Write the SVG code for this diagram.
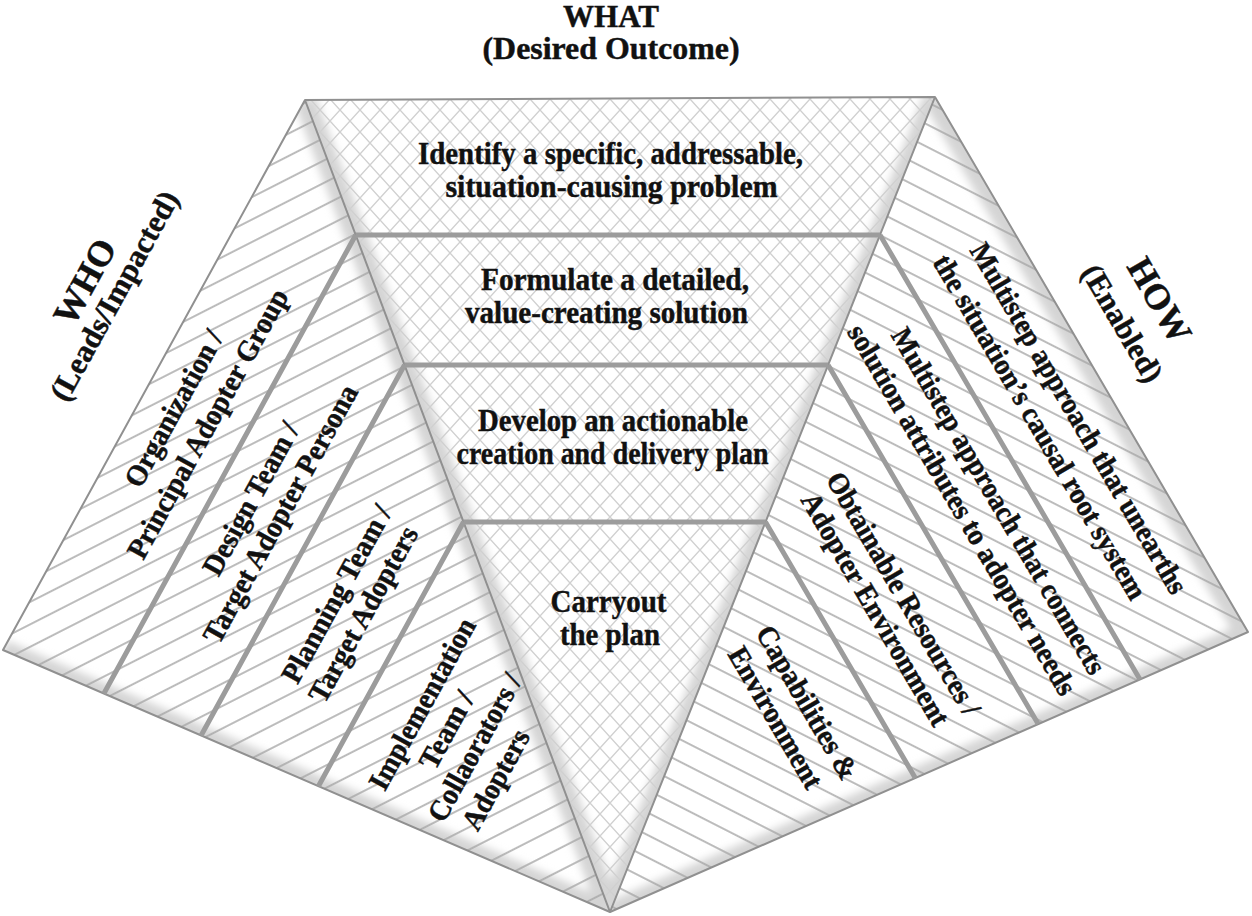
<svg xmlns="http://www.w3.org/2000/svg" width="1252" height="916" viewBox="0 0 1252 916">
<defs>
<style>
.t{font-family:"Liberation Serif","Times New Roman",serif;font-weight:bold;fill:#111;stroke:#111;stroke-width:0.45px;}
.ttl{font-size:31px;text-anchor:middle;}
.ctr{font-size:32px;text-anchor:middle;}
.lab{font-size:29.5px;text-anchor:middle;}
.big{font-size:36px;text-anchor:middle;}
.side{font-size:31px;text-anchor:middle;}
.edge{stroke:#909090;stroke-width:2;fill:none;stroke-linejoin:round;}
.div{stroke:#9c9c9c;stroke-width:5;fill:none;}
.base{fill:#fff;stroke:none;}
.hl{fill:url(#hatchL);}
.hr{fill:url(#hatchR);}
.hc{fill:url(#lattice);}
.sh{fill:none;stroke:#d4d4d4;}
</style>
<pattern id="hatchL" patternUnits="userSpaceOnUse" width="40" height="20" patternTransform="rotate(-27)">
<line x1="-1" y1="10" x2="41" y2="10" stroke="#a6a6a6" stroke-width="1.3"/>
</pattern>
<pattern id="hatchR" patternUnits="userSpaceOnUse" width="40" height="20" patternTransform="rotate(27)">
<line x1="-1" y1="10" x2="41" y2="10" stroke="#a6a6a6" stroke-width="1.3"/>
</pattern>
<pattern id="lattice" patternUnits="userSpaceOnUse" width="20" height="22">
<path d="M-10,-11 L30,33 M10,-11 L50,33 M-30,-11 L10,33 M10,-11 L-30,33 M30,-11 L-10,33 M50,-11 L10,33" stroke="#d0d0d0" stroke-width="1.4" fill="none"/>
</pattern>
<clipPath id="clipL"><polygon points="305,100 3,650 610,912"/></clipPath>
<clipPath id="clipR"><polygon points="935,97 1248,632 610,912"/></clipPath>
<clipPath id="clipC"><polygon points="305,100 935,97 610,912"/></clipPath>
<filter id="blur" x="-20%" y="-20%" width="140%" height="140%"><feGaussianBlur stdDeviation="4"/></filter>
</defs>

<rect x="0" y="0" width="1252" height="916" fill="#fff"/>

<!-- base fills -->
<g id="base">
<polygon class="base" points="305,100 3,650 610,912"/>
<polygon class="base" points="935,97 1248,632 610,912"/>
<polygon class="base" points="305,100 935,97 610,912"/>
</g>

<!-- soft bevel shading -->
<g id="shading">
<g clip-path="url(#clipL)"><g filter="url(#blur)">
<path class="sh" d="M305,100 L610,912" stroke-width="22"/>
<path class="sh" d="M3,650 L610,912" stroke-width="20"/>
</g></g>
<g clip-path="url(#clipR)"><g filter="url(#blur)">
<path class="sh" d="M935,97 L1248,632" stroke-width="26"/>
<path class="sh" d="M610,912 L1248,632" stroke-width="20"/>
</g></g>
<g clip-path="url(#clipC)"><g filter="url(#blur)">
<path class="sh" d="M305,100 L610,912" stroke-width="22"/>
<path class="sh" d="M935,97 L610,912" stroke-width="22"/>
</g></g>
</g>

<!-- title -->
<g id="what-title">
<text class="t ttl" x="611" y="27" textLength="96" lengthAdjust="spacingAndGlyphs">WHAT</text>
<text class="t ttl" x="611" y="59" textLength="257" lengthAdjust="spacingAndGlyphs">(Desired Outcome)</text>
</g>

<!-- centre (WHAT) -->
<g id="what-1">
<polygon class="hc" points="305,100 935,97 880,235 355.7,235"/>
<text class="t ctr" x="610.5" y="164" textLength="385" lengthAdjust="spacingAndGlyphs">Identify a specific, addressable,</text>
<text class="t ctr" x="611.5" y="197" textLength="332" lengthAdjust="spacingAndGlyphs">situation-causing problem</text>
</g>
<g id="what-2">
<polygon class="hc" points="355.7,235 880,235 828.1,365 404.5,365"/>
<text class="t ctr" x="615" y="290" textLength="268" lengthAdjust="spacingAndGlyphs">Formulate a detailed,</text>
<text class="t ctr" x="606.5" y="323" textLength="283" lengthAdjust="spacingAndGlyphs">value-creating solution</text>
</g>
<g id="what-3">
<polygon class="hc" points="404.5,365 828.1,365 765.5,522 463.5,522"/>
<text class="t ctr" x="613" y="431" textLength="270" lengthAdjust="spacingAndGlyphs">Develop an actionable</text>
<text class="t ctr" x="612.5" y="464" textLength="312" lengthAdjust="spacingAndGlyphs">creation and delivery plan</text>
</g>
<g id="what-4">
<polygon class="hc" points="463.5,522 765.5,522 610,912"/>
<text class="t ctr" x="608.5" y="612" textLength="116" lengthAdjust="spacingAndGlyphs">Carryout</text>
<text class="t ctr" x="610" y="645" textLength="100" lengthAdjust="spacingAndGlyphs">the plan</text>
</g>

<!-- left (WHO) -->
<g id="who-title">
<text class="t big" transform="translate(95.2,287.5) rotate(-61.17)">WHO</text>
<text class="t side" transform="translate(123.3,300.7) rotate(-61.17)">(Leads/Impacted)</text>
</g>
<g id="who-1">
<polygon class="hl" points="305,100 355.7,235 103.9,693.5 3,650"/>
<text class="t lab" transform="translate(182.4,413.2) rotate(-61.17)" textLength="174" lengthAdjust="spacingAndGlyphs">Organization /</text>
<text class="t lab" transform="translate(216.2,428.4) rotate(-61.17)" textLength="303" lengthAdjust="spacingAndGlyphs">Principal Adopter Group</text>
</g>
<g id="who-2">
<polygon class="hl" points="355.7,235 404.5,365 201.1,735.5 103.9,693.5"/>
<text class="t lab" transform="translate(259.4,503.4) rotate(-61.17)" textLength="170" lengthAdjust="spacingAndGlyphs">Design Team /</text>
<text class="t lab" transform="translate(288.8,518.5) rotate(-61.17)" textLength="290" lengthAdjust="spacingAndGlyphs">Target Adopter Persona</text>
</g>
<g id="who-3">
<polygon class="hl" points="404.5,365 463.5,522 318.4,786.2 201.1,735.5"/>
<text class="t lab" transform="translate(345.2,598.6) rotate(-61.17)" textLength="198" lengthAdjust="spacingAndGlyphs">Planning Team /</text>
<text class="t lab" transform="translate(371.7,618.9) rotate(-61.17)" textLength="196" lengthAdjust="spacingAndGlyphs">Target Adopters</text>
</g>
<g id="who-4">
<polygon class="hl" points="463.5,522 610,912 318.4,786.2"/>
<text class="t lab" transform="translate(430.8,708.5) rotate(-61.17)" textLength="191" lengthAdjust="spacingAndGlyphs">Implementation</text>
<text class="t lab" transform="translate(455.2,734.6) rotate(-61.17)" textLength="84" lengthAdjust="spacingAndGlyphs">Team /</text>
<text class="t lab" transform="translate(483.2,752.2) rotate(-61.17)" textLength="164" lengthAdjust="spacingAndGlyphs">Collaorators /</text>
<text class="t lab" transform="translate(504.3,784.4) rotate(-61.17)" textLength="110" lengthAdjust="spacingAndGlyphs">Adopters</text>
</g>

<!-- right (HOW) -->
<g id="how-title">
<text class="t big" transform="translate(1149.2,306.3) rotate(59.66)">HOW</text>
<text class="t side" transform="translate(1113.5,328.5) rotate(59.66)">(Enabled)</text>
</g>
<g id="how-1">
<polygon class="hr" points="935,97 1248,632 1140,679.4 880,235"/>
<text class="t lab" transform="translate(1070.4,423.2) rotate(59.66)" textLength="401" lengthAdjust="spacingAndGlyphs">Multistep approach that unearths</text>
<text class="t lab" transform="translate(1031.5,432) rotate(59.66)" textLength="394" lengthAdjust="spacingAndGlyphs">the situation’s causal root system</text>
</g>
<g id="how-2">
<polygon class="hr" points="880,235 1140,679.4 1038.2,724.1 828.1,365"/>
<text class="t lab" transform="translate(990.3,506) rotate(59.66)" textLength="396" lengthAdjust="spacingAndGlyphs">Multistep approach that connects</text>
<text class="t lab" transform="translate(953.7,514.7) rotate(59.66)" textLength="424" lengthAdjust="spacingAndGlyphs">solution attributes to adopter needs</text>
</g>
<g id="how-3">
<polygon class="hr" points="828.1,365 1038.2,724.1 915.3,778 765.5,522"/>
<text class="t lab" transform="translate(895.1,598.8) rotate(59.66)" textLength="277" lengthAdjust="spacingAndGlyphs">Obtainable Resources /</text>
<text class="t lab" transform="translate(867,614.1) rotate(59.66)" textLength="265" lengthAdjust="spacingAndGlyphs">Adopter Environment</text>
</g>
<g id="how-4">
<polygon class="hr" points="765.5,522 915.3,778 610,912"/>
<text class="t lab" transform="translate(798.8,707.4) rotate(59.66)" textLength="173" lengthAdjust="spacingAndGlyphs">Capabilities &amp;</text>
<text class="t lab" transform="translate(767.1,722.5) rotate(59.66)" textLength="159" lengthAdjust="spacingAndGlyphs">Environment</text>
</g>

<!-- edges and dividers -->
<g id="connectors">
<path class="edge" d="M305,100 L3,650 L610,912 L1248,632 L935,97 Z"/>
<path class="edge" d="M305,100 L610,912 M935,97 L610,912"/>
<path class="div" d="M355.7,235 L103.9,693.5 M404.5,365 L201.1,735.5 M463.5,522 L318.4,786.2"/>
<path class="div" d="M880,235 L1140,679.4 M828.1,365 L1038.2,724.1 M765.5,522 L915.3,778"/>
<path class="div" d="M355.7,235 L880,235 M404.5,365 L828.1,365 M463.5,522 L765.5,522"/>
</g>
</svg>
